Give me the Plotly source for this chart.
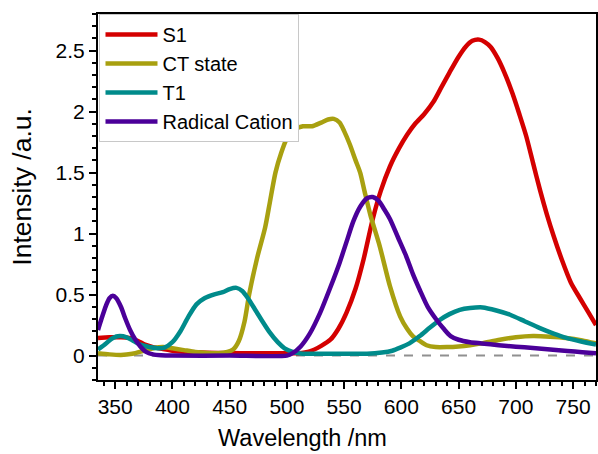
import plotly.graph_objects as go

# ---- data ----
s1_x = [335, 345, 355, 362, 370, 376, 383, 391, 400, 410, 420, 440, 460, 480, 500, 510, 520, 530, 538, 545,
        552, 560, 567, 575, 582, 590, 598, 605, 612, 620, 628, 635, 642, 650, 656, 662, 668, 673, 678, 684,
        690, 697, 703, 709, 715, 721, 727, 733, 740, 748, 756, 763, 770]
s1_y = [0.145, 0.15, 0.15, 0.145, 0.12, 0.09, 0.07, 0.055, 0.04, 0.032, 0.027, 0.022, 0.02, 0.02, 0.02, 0.02,
        0.035, 0.08, 0.13, 0.22, 0.35, 0.55, 0.79, 1.12, 1.35, 1.55, 1.70, 1.81, 1.90, 1.98, 2.08, 2.20, 2.32,
        2.45, 2.53, 2.58, 2.59, 2.57, 2.53, 2.44, 2.32, 2.15, 1.98, 1.80, 1.58, 1.36, 1.16, 0.98, 0.79, 0.60,
        0.47, 0.36, 0.25]

ct_x = [335, 345, 355, 365, 375, 385, 392, 400, 410, 420, 430, 440, 448, 453, 458, 463, 467, 474, 481, 485,
        490, 495, 500, 506, 514, 522, 530, 536, 541, 546, 550, 555, 560, 564, 568, 573, 581, 590, 599, 605,
        610, 616, 622, 630, 640, 650, 660, 670, 686, 700, 715, 730, 744, 758, 770]
ct_y = [0.02, 0.01, 0.005, 0.015, 0.04, 0.065, 0.07, 0.06, 0.045, 0.03, 0.022, 0.02, 0.03, 0.05, 0.12, 0.28,
        0.50, 0.80, 1.05, 1.25, 1.50, 1.66, 1.78, 1.85, 1.88, 1.88, 1.91, 1.935, 1.94, 1.91, 1.84, 1.73, 1.60,
        1.50, 1.34, 1.15, 0.90, 0.57, 0.32, 0.22, 0.16, 0.12, 0.085, 0.07, 0.07, 0.075, 0.085, 0.10, 0.13,
        0.15, 0.16, 0.155, 0.145, 0.125, 0.10]

t1_x = [335, 342, 348, 354, 360, 366, 372, 380, 387, 393, 400, 407, 414, 421, 428, 436, 444, 450, 456, 461,
        466, 472, 478, 485, 492, 498, 505, 512, 530, 550, 570, 583, 592, 599, 607, 616, 625, 634, 642, 651,
        660, 671, 683, 695, 708, 721, 733, 744, 757, 770]
t1_y = [0.05, 0.10, 0.145, 0.16, 0.15, 0.12, 0.09, 0.07, 0.06, 0.065, 0.11, 0.20, 0.32, 0.42, 0.47, 0.50,
        0.52, 0.545, 0.555, 0.53, 0.47, 0.38, 0.29, 0.19, 0.11, 0.06, 0.03, 0.018, 0.015, 0.015, 0.015, 0.025,
        0.04, 0.065, 0.10, 0.16, 0.23, 0.295, 0.34, 0.375, 0.39, 0.395, 0.37, 0.335, 0.28, 0.225, 0.18, 0.145,
        0.115, 0.09]

rc_x = [335, 338, 342, 345, 348, 351, 355, 359, 363, 367, 372, 377, 383, 390, 400, 450, 500, 505, 512, 520,
        529, 538, 546, 552, 558, 564, 570, 575, 580, 585, 590, 597, 604, 610, 616, 623, 631, 637, 643, 650,
        660, 670, 685, 700, 715, 730, 745, 758, 770]
rc_y = [0.21, 0.30, 0.41, 0.47, 0.49, 0.47, 0.40, 0.30, 0.21, 0.14, 0.075, 0.03, 0.01, 0.003, 0.0, 0.0, 0.0,
        0.02, 0.075, 0.18, 0.35, 0.56, 0.76, 0.93, 1.10, 1.22, 1.29, 1.30, 1.27, 1.20, 1.12, 0.97, 0.82, 0.67,
        0.54, 0.40, 0.29, 0.22, 0.16, 0.13, 0.11, 0.10, 0.085, 0.073, 0.063, 0.05, 0.038, 0.028, 0.02]

series = [
    ("S1", s1_x, s1_y, "#d40000"),
    ("CT state", ct_x, ct_y, "#a8a010"),
    ("T1", t1_x, t1_y, "#008b8b"),
    ("Radical Cation", rc_x, rc_y, "#4b0099"),
]

x_ticks = [350, 400, 450, 500, 550, 600, 650, 700, 750]
y_ticks = [0, 0.5, 1, 1.5, 2, 2.5]
y_tick_text = ["0", "0.5", "1", "1.5", "2", "2.5"]

FONT = "Liberation Sans, Arial, sans-serif"

fig = go.Figure()
for name, xs, ys, col in series:
    fig.add_trace(go.Scatter(x=xs, y=ys, name=name, mode="lines",
                             line=dict(color=col, width=4.5, shape="spline", smoothing=0.7)))

fig.add_hline(y=0, line=dict(color="#909090", width=2, dash="dash"), layer="below")

fig.update_layout(
    width=598, height=454,
    margin=dict(l=98, r=2, t=14, b=74),
    paper_bgcolor="white", plot_bgcolor="white",
    font=dict(family=FONT, color="black", size=21),
    legend=dict(x=0.003, y=1.0, xanchor="left", yanchor="top",
                bgcolor="white", bordercolor="#c8c8c8", borderwidth=1,
                font=dict(size=20, family=FONT), itemwidth=52,
                tracegroupgap=0),
    showlegend=True,
    annotations=[
        dict(text="Wavelength /nm", xref="paper", yref="paper", x=0.411, y=-0.158,
             xanchor="center", yanchor="middle", showarrow=False, font=dict(size=23.5)),
        dict(text="Intensity /a.u.", xref="paper", yref="paper", x=-0.152, y=0.529,
             xanchor="center", yanchor="middle", textangle=-90, showarrow=False, font=dict(size=26.5)),
    ],
)
fig.update_xaxes(
    range=[335, 770], tickvals=x_ticks, ticks="outside", ticklen=7, tickwidth=2, automargin=False,
    tickcolor="black", showline=True, linecolor="black", linewidth=2, mirror=True,
    showgrid=False, zeroline=False, tickfont=dict(size=21),
    minor=dict(dtick=10, ticks="outside", ticklen=4, tickwidth=1.5, tickcolor="black"),
)
fig.update_yaxes(
    range=[-0.2, 2.8], tickvals=y_ticks, ticktext=y_tick_text, ticks="outside", ticklen=7, tickwidth=2,
    automargin=False,
    tickcolor="black", showline=True, linecolor="black", linewidth=2, mirror=True,
    showgrid=False, zeroline=False, tickfont=dict(size=21),
    minor=dict(tick0=0, dtick=0.1, ticks="outside", ticklen=4, tickwidth=1.5, tickcolor="black"),
)

fig.write_html("out.html", config={"displayModeBar": False},
               post_script="document.body.style.margin='0';document.body.style.overflow='hidden';")
